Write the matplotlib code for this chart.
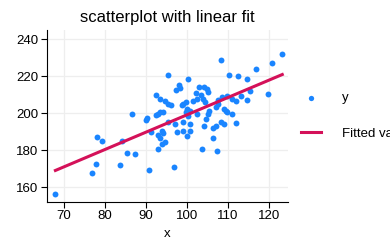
import numpy as np
import matplotlib
matplotlib.use("Agg")
import matplotlib.pyplot as plt

# values
x_vals = [67.9, 76.8, 77.7, 78.1, 79.3, 83.7, 84.1, 85.4, 87.2, 86.5,
          90.0, 90.6, 91.1, 92.4, 92.8, 93.0, 93.4, 94.2, 95.4, 97.1,
          98.9, 100.7, 98.9, 97.6, 100.7, 99.9, 93.8, 94.2, 93.4, 94.6,
          94.0, 96.7, 103.6, 107.2, 106.4, 104.0, 106.2, 107.1, 108.2, 109.0,
          112.0, 104.6, 105.2, 105.4, 109.8, 110.9, 99.7, 102.5, 108.3, 123.2,
          120.7, 116.8, 95.4, 110.3, 112.4, 114.5, 100.2, 98.0, 98.3, 97.2,
          102.9, 104.1, 104.8, 105.0, 102.2, 92.4, 93.4, 94.5, 95.4, 96.1,
          103.4, 102.4, 101.5, 103.8, 104.4, 99.1, 99.8, 98.7, 99.9, 100.6,
          107.6, 108.5, 109.8, 110.9, 112.0, 113.2, 114.5, 115.4, 119.8, 107.5,
          107.1, 108.9, 109.5, 90.2, 93.0, 100.2]
y_vals = [156.5, 167.4, 172.4, 187.2, 185.0, 171.9, 185.0, 178.2, 177.7, 199.8,
          196.4, 169.2, 189.6, 198.9, 188.1, 180.7, 200.7, 200.7, 195.0, 194.4,
          195.0, 194.0, 190.3, 189.9, 190.3, 187.8, 190.4, 189.0, 186.3, 184.2,
          183.1, 171.0, 180.5, 179.5, 186.3, 193.2, 192.1, 193.2, 195.0, 194.1,
          194.8, 197.1, 199.5, 201.2, 200.7, 199.5, 200.7, 199.8, 228.6, 231.9,
          227.2, 224.1, 220.9, 220.9, 220.0, 218.4, 218.4, 215.5, 213.7, 212.8,
          214.2, 213.9, 213.0, 211.5, 211.0, 209.7, 207.4, 206.6, 205.2, 204.3,
          209.7, 207.9, 206.5, 207.4, 206.1, 205.2, 206.1, 204.3, 202.5, 201.2,
          207.0, 208.5, 209.2, 207.4, 206.5, 209.2, 207.0, 212.0, 210.6, 204.7,
          203.4, 202.5, 201.2, 197.5, 199.8, 198.4]
x_ticks = [70, 80, 90, 100, 110, 120]
y_ticks = [160, 180, 200, 220, 240]

plt.rcParams['font.family'] = ['Liberation Sans', 'DejaVu Sans']

x = np.array(x_vals)
y = np.array(y_vals)
slope, icpt = np.polyfit(x, y, 1)
fit_x = np.array([x.min(), x.max()])
fit_y = icpt + slope * fit_x

fig = plt.figure(figsize=(3.9, 2.44), dpi=100)
ax = fig.add_axes([0.1205, 0.172, 0.618, 0.705])

ax.scatter(x, y, s=18, color='#1a85ff', linewidths=0, zorder=3, label='y')
ax.plot(fit_x, fit_y, color='#d41159', lw=2.2, zorder=4, label='Fitted values')

ax.set_xlim(65.85, 124.6)
ax.set_ylim(151.9, 245)
ax.set_xticks(x_ticks)
ax.set_yticks(y_ticks)
ax.grid(True, color='#eeeeee', lw=0.9, zorder=0)
ax.set_axisbelow(True)
for s in ['top', 'right']:
    ax.spines[s].set_visible(False)
ax.tick_params(labelsize=9.5, length=4, width=0.8, pad=2)
ax.set_xlabel('x', fontsize=9.5, labelpad=4)
ax.set_title('scatterplot with linear fit', fontsize=12, pad=6)

fig.legend(loc='center left', bbox_to_anchor=(0.772, 0.525), frameon=False,
           fontsize=9.5, borderpad=0, borderaxespad=0, labelspacing=1.75,
           handlelength=1.5, handletextpad=1.6, markerscale=0.9)

fig.savefig('out.png', dpi=100)
